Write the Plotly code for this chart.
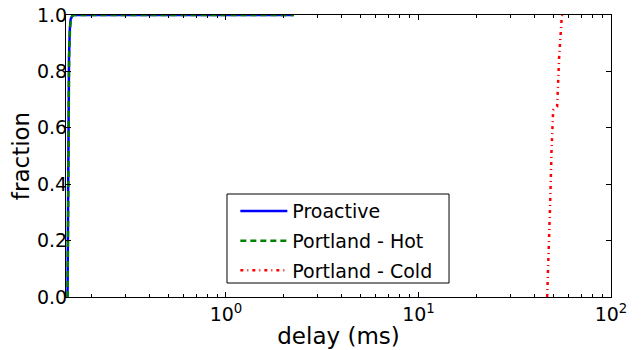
import plotly.graph_objects as go
import numpy as np

# Data (delay in ms, cumulative fraction)
proactive_x = [0.1503, 0.1508, 0.1513, 0.1520, 0.1530, 0.1545, 0.1560, 0.1590, 0.1620, 2.25]
proactive_y = [0.0, 0.15, 0.40, 0.65, 0.85, 0.95, 0.985, 0.997, 1.0, 1.0]

hot_x = [0.1505, 0.1510, 0.1515, 0.1522, 0.1532, 0.1548, 0.1563, 0.1593, 0.1625, 2.25]
hot_y = [0.0, 0.15, 0.40, 0.65, 0.85, 0.95, 0.985, 0.997, 1.0, 1.0]

cold_x = [46.6, 47.5, 48.3, 49.1, 49.7, 50.1, 52.5, 53.8, 55.5, 56.0]
cold_y = [0.0, 0.15, 0.33, 0.52, 0.64, 0.663, 0.675, 0.852, 0.994, 1.0]

series_names = ["Proactive", "Portland - Hot", "Portland - Cold"]
x_tickvals = [1, 10, 100]
x_ticktext = ["10<sup>0</sup>", "10<sup>1</sup>", "10<sup>2</sup>"]
y_tickvals = [0.0, 0.2, 0.4, 0.6, 0.8, 1.0]

fig = go.Figure()
fig.add_trace(go.Scatter(x=proactive_x, y=proactive_y, mode="lines", name=series_names[0],
                         legendgroup="a", line=dict(color="blue", width=2.5)))
fig.add_trace(go.Scatter(x=hot_x, y=hot_y, mode="lines", name=series_names[1],
                         legendgroup="b", line=dict(color="green", width=2.5, dash="6px,4px")))
fig.add_trace(go.Scatter(x=cold_x, y=cold_y, mode="lines", name=series_names[2],
                         legendgroup="c", line=dict(color="red", width=2.5, dash="3px,4px,1px,4px")))

minor_vals = [m * 10.0 ** e for e in (-1, 0, 1) for m in range(2, 10)]

# legend frame drawn as a shape
fig.add_shape(type="rect", xref="paper", yref="paper",
              x0=0.2954, x1=0.7028, y0=0.0496, y1=0.3652,
              line=dict(color="black", width=1), fillcolor="white", layer="above")

# page body has an 8px margin, so the figure is shifted by 8px; compensate
fig.update_layout(
    width=633, height=342,
    margin=dict(l=58, r=30, t=7, b=53),
    paper_bgcolor="white", plot_bgcolor="white",
    font=dict(family="DejaVu Sans", size=19, color="black"),
    showlegend=True,
    legend=dict(x=0.3107, y=0.372, xanchor="left", yanchor="top",
                borderwidth=0, bgcolor="rgba(0,0,0,0)",
                font=dict(size=19), itemwidth=47, tracegroupgap=2),
    xaxis=dict(type="log", range=[np.log10(0.1476), 2], automargin=False,
               tickvals=x_tickvals, ticktext=x_ticktext, ticklabeloverflow="allow",
               ticks="inside", ticklen=5, tickcolor="black",
               minor=dict(ticks="inside", ticklen=3, tickvals=minor_vals, tickcolor="black"),
               showline=True, linecolor="black", linewidth=1, mirror="allticks",
               showgrid=False, zeroline=False,
               title=dict(text="delay (ms)", standoff=4)),
    yaxis=dict(range=[0, 1], tickvals=y_tickvals, tickformat=".1f", automargin=False,
               ticks="inside", ticklen=5, tickcolor="black", ticklabelstandoff=-6,
               ticklabeloverflow="allow",
               showline=True, linecolor="black", linewidth=1, mirror="allticks",
               showgrid=False, zeroline=False,
               title=dict(text="fraction", standoff=4)),
)

fig.write_html("out.html")
